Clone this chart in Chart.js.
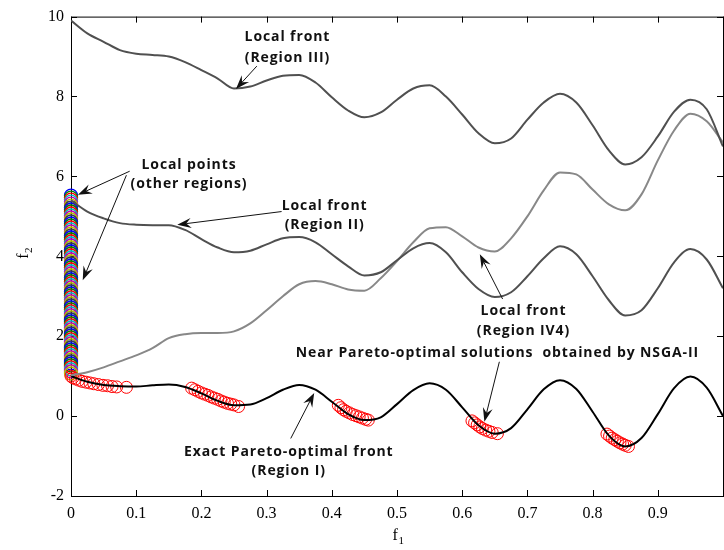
<!DOCTYPE html>
<html>
<head>
<meta charset="utf-8">
<script src="https://cdn.jsdelivr.net/npm/chart.js@4.4.0/dist/chart.umd.min.js"></script>
<style>
  html, body { margin: 0; padding: 0; background: #fff; overflow: hidden; }
  #wrap { width: 731px; height: 550px; }
</style>
</head>
<body>
<div id="wrap"><canvas id="front_chart" width="731" height="550"></canvas></div>
<script>
// f1 grid shared by the four fronts
const f1Grid = [0, 0.025, 0.05, 0.075, 0.1, 0.125, 0.15, 0.175, 0.2, 0.225, 0.25, 0.275, 0.3, 0.325, 0.35, 0.375,
  0.4, 0.425, 0.45, 0.475, 0.5, 0.525, 0.55, 0.575, 0.6, 0.625, 0.65, 0.675, 0.7, 0.725, 0.75, 0.775,
  0.8, 0.825, 0.85, 0.875, 0.9, 0.925, 0.95, 0.975, 1]

const frontRegionI = [1.0, 0.86, 0.78, 0.75, 0.74, 0.77, 0.79, 0.73, 0.57, 0.38, 0.27, 0.29, 0.45, 0.66, 0.78, 0.66,
  0.36, 0.05, -0.1, -0.03, 0.3, 0.65, 0.82, 0.66, 0.22, -0.23, -0.44, -0.3, 0.17, 0.67, 0.9, 0.68,
  0.11, -0.49, -0.76, -0.55, 0.05, 0.7, 0.99, 0.71, 0.0]

const frontRegionII = [5.4, 5.12, 4.95, 4.83, 4.79, 4.78, 4.78, 4.66, 4.43, 4.22, 4.1, 4.14, 4.3, 4.45, 4.48, 4.35,
  4.05, 3.75, 3.52, 3.6, 3.9, 4.2, 4.33, 4.1, 3.6, 3.18, 2.98, 3.1, 3.5, 3.95, 4.25, 4.05,
  3.5, 2.9, 2.52, 2.65, 3.2, 3.85, 4.18, 3.92, 3.2]

const frontRegionIII = [9.9, 9.58, 9.37, 9.16, 9.07, 9.04, 9.0, 8.86, 8.66, 8.45, 8.2, 8.25, 8.4, 8.52, 8.54, 8.35,
  7.98, 7.65, 7.48, 7.6, 7.92, 8.2, 8.28, 8.0, 7.55, 7.08, 6.83, 6.95, 7.42, 7.85, 8.07, 7.85,
  7.28, 6.65, 6.3, 6.48, 7.0, 7.62, 7.92, 7.68, 6.75]

const frontRegionIV4 = [1.02, 1.1, 1.22, 1.37, 1.52, 1.7, 1.95, 2.05, 2.08, 2.08, 2.12, 2.32, 2.65, 3.0, 3.3, 3.38,
  3.3, 3.17, 3.14, 3.45, 3.88, 4.35, 4.7, 4.73, 4.5, 4.22, 4.12, 4.45, 5.0, 5.65, 6.1, 6.05,
  5.67, 5.3, 5.15, 5.55, 6.4, 7.15, 7.57, 7.38, 6.85]

// NSGA-II solutions (red circles)
const nsgaF1 = [0, 0.003, 0.007, 0.012, 0.017, 0.023, 0.029, 0.035, 0.042, 0.049, 0.056, 0.063, 0.07, 0.085,
  0.185, 0.19, 0.195, 0.2, 0.205, 0.21, 0.215, 0.22, 0.225, 0.23, 0.235, 0.24, 0.245, 0.25, 0.257,
  0.41, 0.414, 0.418, 0.422, 0.427, 0.432, 0.437, 0.442, 0.447, 0.452, 0.456,
  0.615, 0.619, 0.623, 0.627, 0.631, 0.636, 0.641, 0.646, 0.654,
  0.822, 0.826, 0.83, 0.834, 0.838, 0.842, 0.846, 0.85, 0.855]
const nsgaF2 = [1.0, 0.96, 0.93, 0.9, 0.87, 0.85, 0.83, 0.81, 0.79, 0.77, 0.76, 0.74, 0.73, 0.72,
  0.7, 0.66, 0.62, 0.58, 0.55, 0.52, 0.48, 0.45, 0.42, 0.38, 0.35, 0.32, 0.3, 0.28, 0.24,
  0.27, 0.21, 0.16, 0.12, 0.08, 0.04, 0.01, -0.02, -0.05, -0.08, -0.1,
  -0.12, -0.17, -0.22, -0.27, -0.31, -0.35, -0.38, -0.41, -0.44,
  -0.45, -0.5, -0.55, -0.59, -0.63, -0.67, -0.7, -0.73, -0.76]

// local points (other regions), all at f1 = 0
const localPointsF2 = [5.52, 5.47, 5.42, 5.37, 5.32, 5.27, 5.22, 5.17, 5.12, 5.07,
  5.02, 4.97, 4.92, 4.87, 4.82, 4.77, 4.72, 4.67, 4.62, 4.57,
  4.52, 4.47, 4.42, 4.37, 4.32, 4.27, 4.22, 4.17, 4.12, 4.07,
  4.02, 3.97, 3.92, 3.87, 3.82, 3.77, 3.72, 3.67, 3.62, 3.57,
  3.52, 3.47, 3.42, 3.37, 3.32, 3.27, 3.22, 3.17, 3.12, 3.07,
  3.02, 2.97, 2.92, 2.87, 2.82, 2.77, 2.72, 2.67, 2.62, 2.57,
  2.52, 2.47, 2.42, 2.37, 2.32, 2.27, 2.22, 2.17, 2.12, 2.07,
  2.02, 1.97, 1.92, 1.87, 1.82, 1.77, 1.72, 1.67, 1.62, 1.57,
  1.52, 1.47, 1.42, 1.37, 1.32, 1.27, 1.22, 1.17, 1.12, 1.07]
const localColors = ['#0000ff', '#008000', '#ff0000', '#00bfbf', '#bf00bf', '#bfbf00', '#404040']

// text + arrows, in data units
const notes = [
  { lines: [['Local front', 0.332, 9.38], ['(Region III)', 0.332, 8.87]], arrows: [[0.285, 8.76, 0.253, 8.19]] },
  { lines: [['Local points', 0.181, 6.19], ['(other regions)', 0.181, 5.70]],
    arrows: [[0.090, 6.13, 0.0107, 5.54], [0.085, 6.03, 0.018, 3.40]] },
  { lines: [['Local front', 0.389, 5.17], ['(Region II)', 0.389, 4.69]], arrows: [[0.323, 5.12, 0.163, 4.79]] },
  { lines: [['Local front', 0.694, 2.53], ['(Region IV4)', 0.694, 2.02]], arrows: [[0.662, 2.93, 0.627, 4.05]] },
  { lines: [['Near Pareto-optimal solutions  obtained by NSGA-II', 0.654, 1.48]], arrows: [[0.657, 1.36, 0.634, -0.14]] },
  { lines: [['Exact Pareto-optimal front', 0.334, -1.0], ['(Region I)', 0.334, -1.48]], arrows: [[0.337, -0.56, 0.373, 0.58]] },
]

const pairs = (xs, ys) => xs.map((x, i) => ({ x: x, y: ys[i] }))

function drawArrow(ctx, x0, y0, x1, y1) {
  const a = Math.atan2(y1 - y0, x1 - x0)
  const dx = Math.cos(a), dy = Math.sin(a)
  const L = 14, W = 5, N = 9
  ctx.beginPath()
  ctx.moveTo(x0, y0)
  ctx.lineTo(x1 - dx * N, y1 - dy * N)
  ctx.stroke()
  ctx.beginPath()
  ctx.moveTo(x1, y1)
  ctx.lineTo(x1 - dx * L - dy * W, y1 - dy * L + dx * W)
  ctx.lineTo(x1 - dx * N, y1 - dy * N)
  ctx.lineTo(x1 - dx * L + dy * W, y1 - dy * L - dx * W)
  ctx.closePath()
  ctx.fill()
}

function subLabel(ctx, main, sub, x, y, rot) {
  ctx.save()
  ctx.translate(x, y)
  ctx.rotate(rot)
  ctx.fillStyle = '#000'
  ctx.textBaseline = 'alphabetic'
  ctx.textAlign = 'left'
  ctx.font = '16px "Liberation Serif"'
  const w1 = ctx.measureText(main).width
  ctx.font = '11px "Liberation Serif"'
  const w2 = ctx.measureText(sub).width
  const start = -(w1 + w2) / 2
  ctx.font = '16px "Liberation Serif"'
  ctx.fillText(main, start, 0)
  ctx.font = '11px "Liberation Serif"'
  ctx.fillText(sub, start + w1 + 0.5, 4)
  ctx.restore()
}

// MATLAB style box with inward ticks, plus the annotations
const boxPlugin = {
  id: 'box',
  beforeDatasetsDraw(chart) {
    const { ctx, chartArea: a, scales } = chart
    ctx.save()
    ctx.strokeStyle = '#000'
    ctx.lineWidth = 1
    ctx.strokeRect(a.left + 0.5, a.top + 0.5, a.right - a.left, a.bottom - a.top)
    const t = 6
    ctx.beginPath()
    scales.x.ticks.forEach(tk => {
      const px = Math.round(scales.x.getPixelForValue(tk.value)) + 0.5
      ctx.moveTo(px, a.bottom); ctx.lineTo(px, a.bottom - t)
      ctx.moveTo(px, a.top); ctx.lineTo(px, a.top + t)
    })
    scales.y.ticks.forEach(tk => {
      const py = Math.round(scales.y.getPixelForValue(tk.value)) + 0.5
      ctx.moveTo(a.left, py); ctx.lineTo(a.left + t, py)
      ctx.moveTo(a.right, py); ctx.lineTo(a.right - t, py)
    })
    ctx.stroke()
    ctx.restore()
  },
  afterDatasetsDraw(chart) {
    const { ctx, chartArea: a, scales } = chart
    const X = v => scales.x.getPixelForValue(v)
    const Y = v => scales.y.getPixelForValue(v)
    ctx.save()
    ctx.fillStyle = '#111'
    ctx.strokeStyle = '#111'
    ctx.lineWidth = 1
    ctx.font = 'bold 14px "Open Sans"'
    ctx.letterSpacing = '0.9px'
    ctx.textAlign = 'center'
    ctx.textBaseline = 'alphabetic'
    notes.forEach(n => {
      n.lines.forEach(l => ctx.fillText(l[0], X(l[1]), Y(l[2])))
      n.arrows.forEach(r => drawArrow(ctx, X(r[0]), Y(r[1]), X(r[2]), Y(r[3])))
    })
    ctx.restore()
    subLabel(ctx, 'f', '1', (a.left + 729) / 2 - 2, a.bottom + 44, 0)
    subLabel(ctx, 'f', '2', 28, (a.top + a.bottom) / 2 - 3, -Math.PI / 2)
  }
}

const lineStyle = (color) => ({
  showLine: true, borderColor: color, borderWidth: 2, pointRadius: 0, pointHoverRadius: 0,
  cubicInterpolationMode: 'monotone', fill: false
})

new Chart(document.getElementById('front_chart'), {
  type: 'scatter',
  data: {
    datasets: [
      Object.assign({ label: 'Region III', data: pairs(f1Grid, frontRegionIII) }, lineStyle('#505050')),
      Object.assign({ label: 'Region II', data: pairs(f1Grid, frontRegionII) }, lineStyle('#505050')),
      Object.assign({ label: 'Region IV4', data: pairs(f1Grid, frontRegionIV4) }, lineStyle('#888888')),
      Object.assign({ label: 'Region I', data: pairs(f1Grid, frontRegionI) }, lineStyle('#000000')),
      {
        label: 'NSGA-II', data: pairs(nsgaF1, nsgaF2), showLine: false, clip: false,
        pointRadius: 6, pointBorderWidth: 1, pointBorderColor: '#ff0000', pointBackgroundColor: 'rgba(0,0,0,0)'
      },
      {
        label: 'Local points', data: localPointsF2.map(y => ({ x: 0, y: y })), showLine: false, clip: false,
        pointRadius: 6.5, pointBorderWidth: 1.3,
        pointBorderColor: localPointsF2.map((y, i) => localColors[i % localColors.length]),
        pointBackgroundColor: 'rgba(0,0,0,0)'
      },
    ]
  },
  options: {
    responsive: false,
    animation: false,
    events: [],
    layout: { padding: { top: 12, right: 4, left: 0, bottom: 0 } },
    plugins: { legend: { display: false }, tooltip: { enabled: false } },
    scales: {
      x: {
        type: 'linear', min: 0, max: 1,
        grid: { display: false, drawTicks: false }, border: { display: false },
        ticks: {
          stepSize: 0.1, autoSkip: false, maxRotation: 0, padding: 8, color: '#000',
          font: { family: '"Liberation Serif"', size: 16 },
          callback: v => v > 0.999 ? '' : String(+v.toFixed(1))
        },
        afterFit: s => { s.height = 54 }
      },
      y: {
        type: 'linear', min: -2, max: 10,
        grid: { display: false, drawTicks: false }, border: { display: false },
        ticks: {
          stepSize: 2, padding: 7, color: '#000',
          font: { family: '"Liberation Serif"', size: 16 },
          callback: v => String(v)
        },
        afterFit: s => { s.width = 71 }
      }
    }
  },
  plugins: [boxPlugin]
})
</script>
</body>
</html>
